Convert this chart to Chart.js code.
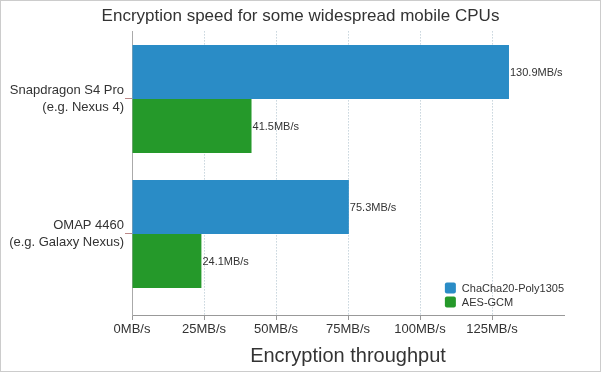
<!DOCTYPE html>
<html lang="en">
<head>
<meta charset="UTF-8">
<title>Encryption speed</title>
<script src="https://cdn.jsdelivr.net/npm/chart.js@4.4.1/dist/chart.umd.min.js"></script>
<style>
  body { margin: 0; background: #fff; }
  .frame { width: 599px; height: 370px; border: 1px solid #ccc; }
</style>
</head>
<body>
<div class="frame"><canvas id="speedChart" width="599" height="370"></canvas></div>
<script>
const cpus = [['Snapdragon S4 Pro', '(e.g. Nexus 4)'], ['OMAP 4460', '(e.g. Galaxy Nexus)']];
const seriesNames = ['ChaCha20-Poly1305', 'AES-GCM'];
const chachaSpeed = [130.9, 75.3];
const aesSpeed = [41.5, 24.1];
const speedTicks = [0, 25, 50, 75, 100, 125];

const FONT = '"Liberation Sans", Helvetica, Arial, sans-serif';

// value printed right after each bar
const valueLabels = {
    id: 'valueLabels',
    afterDatasetsDraw(chart) {
        const ctx = chart.ctx;
        ctx.save();
        ctx.font = '11px ' + FONT;
        ctx.fillStyle = '#333';
        ctx.textBaseline = 'middle';
        chart.data.datasets.forEach((ds, i) => {
            chart.getDatasetMeta(i).data.forEach((bar, j) => {
                ctx.fillText(ds.data[j].x.toFixed(1) + 'MB/s', bar.x + 1, bar.y + 1);
            });
        });
        ctx.restore();
    }
};

// small legend in the lower right corner of the plot
const cornerLegend = {
    id: 'cornerLegend',
    afterDraw(chart) {
        const { ctx, chartArea } = chart;
        const sets = chart.data.datasets;
        ctx.save();
        ctx.font = '11px ' + FONT;
        const widest = Math.max(...sets.map(d => ctx.measureText(d.label).width));
        const box = 11, row = 14;
        const left = chartArea.right - widest - box - 6;
        sets.forEach((d, i) => {
            const cy = chartArea.bottom - 13 - row * (sets.length - 1 - i);
            ctx.fillStyle = d.backgroundColor;
            ctx.beginPath();
            ctx.roundRect(left, cy - box / 2, box, box, 2);
            ctx.fill();
            ctx.fillStyle = '#333';
            ctx.textBaseline = 'middle';
            ctx.fillText(d.label, left + box + 6, cy + 0.5);
        });
        ctx.restore();
    }
};

const ctx = document.getElementById('speedChart').getContext('2d');
new Chart(ctx, {
    type: 'bar',
    data: {
        datasets: [{
            label: seriesNames[0],
            data: chachaSpeed.map((v, i) => ({ x: v, y: i })),
            backgroundColor: '#2a8cc6'
        }, {
            label: seriesNames[1],
            data: aesSpeed.map((v, i) => ({ x: v, y: i })),
            backgroundColor: '#25992a'
        }]
    },
    options: {
        indexAxis: 'y',
        responsive: false,
        animation: false,
        devicePixelRatio: 1,
        categoryPercentage: 0.8,
        barPercentage: 1,
        plugins: {
            legend: { display: false },
            tooltip: { enabled: false },
            title: {
                display: true,
                text: 'Encryption speed for some widespread mobile CPUs',
                color: '#333',
                font: { family: FONT, size: 17, weight: 'normal', lineHeight: 1.2 },
                padding: { top: 5, bottom: 5 }
            }
        },
        scales: {
            x: {
                type: 'linear',
                min: 0,
                max: 150,
                afterBuildTicks: scale => { scale.ticks = speedTicks.map(v => ({ value: v })); },
                afterFit: scale => { scale.height = 56; },
                ticks: {
                    callback: v => v + 'MB/s',
                    color: '#333',
                    padding: 2,
                    maxRotation: 0,
                    font: { family: FONT, size: 13 }
                },
                grid: {
                    color: 'rgba(150,175,190,0.8)',
                    tickColor: '#999',
                    tickBorderDash: [],
                    tickLength: 5
                },
                border: { color: '#999', dash: [1, 2] },
                title: {
                    display: true,
                    text: 'Encryption throughput',
                    color: '#333',
                    font: { family: FONT, size: 20 },
                    padding: { top: 0, bottom: 3 }
                }
            },
            y: {
                type: 'linear',
                min: -0.5,
                max: 1.6,
                reverse: true,
                offset: false,
                afterBuildTicks: scale => { scale.ticks = cpus.map((_, i) => ({ value: i })); },
                afterFit: scale => { scale.width = 131; },
                ticks: {
                    callback: v => cpus[v],
                    color: '#333',
                    padding: 1,
                    font: { family: FONT, size: 13, lineHeight: 1.3 }
                },
                grid: {
                    offset: false,
                    drawOnChartArea: false,
                    tickColor: '#b88',
                    tickLength: 7
                },
                border: { color: '#aaa' }
            },
            // empty strip on the right so the title stays centred on the whole image
            spacer: {
                type: 'linear',
                position: 'right',
                grid: { display: false },
                ticks: { display: false },
                border: { display: false },
                afterFit: scale => { scale.width = 36; }
            }
        }
    },
    plugins: [valueLabels, cornerLegend]
});
</script>
</body>
</html>
